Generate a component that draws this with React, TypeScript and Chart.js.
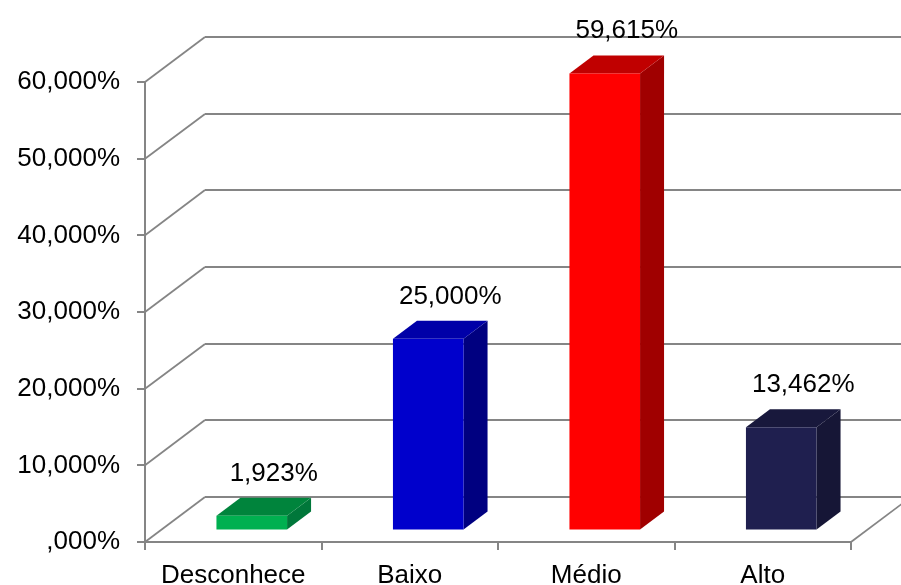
import React, { useEffect, useRef } from "react";
import { Chart, registerables } from "chart.js";

Chart.register(...registerables);

const categories = ["Desconhece", "Baixo", "Médio", "Alto"];
const values = [1.923, 25.0, 59.615, 13.462];
const yTicks = [0, 10, 20, 30, 40, 50, 60];
const yTickLabels = [",000%", "10,000%", "20,000%", "30,000%", "40,000%", "50,000%", "60,000%"];
const frontColors = ["#00b050", "#0000cc", "#ff0000", "#1f1f4f"];
const topColors = ["#00843c", "#0000a8", "#c00000", "#18183c"];
const sideColors = ["#00773a", "#000080", "#a00000", "#161636"];

const GRID = "#858585";
const FONT = '"Liberation Sans", Arial, sans-serif';
// wall depth (back-wall offset)
const WALL_DX = 60;
const WALL_DY = -45;
// bar front offset and bar depth
const BAR_DX = 18.5;
const BAR_DY = -11.5;
const DEPTH_DX = 24;
const DEPTH_DY = -18;

const fmt = (v: number) => v.toFixed(3).replace(".", ",") + "%";

const threeD = {
  id: "threeD",
  beforeDatasetsDraw(chart: any) {
    const { ctx, chartArea, scales } = chart;
    const y = scales.y;
    ctx.save();
    ctx.strokeStyle = GRID;
    // back wall horizontals
    ctx.lineWidth = 2;
    for (const v of yTicks) {
      const py = Math.round(y.getPixelForValue(v) + WALL_DY);
      ctx.beginPath();
      ctx.moveTo(chartArea.left + WALL_DX, py);
      ctx.lineTo(chartArea.right + WALL_DX, py);
      ctx.stroke();
    }
    // diagonals from left axis to back wall
    ctx.lineWidth = 1.8;
    for (const v of yTicks) {
      const py = y.getPixelForValue(v);
      ctx.beginPath();
      ctx.moveTo(chartArea.left, py);
      ctx.lineTo(chartArea.left + WALL_DX, Math.round(py + WALL_DY));
      ctx.stroke();
    }
    // floor right edge
    const py0 = y.getPixelForValue(0);
    ctx.beginPath();
    ctx.moveTo(chartArea.right, py0);
    ctx.lineTo(chartArea.right + WALL_DX, py0 + WALL_DY);
    ctx.stroke();
    ctx.restore();
  },
  afterDatasetsDraw(chart: any) {
    const { ctx } = chart;
    const meta = chart.getDatasetMeta(0);
    ctx.save();
    meta.data.forEach((bar: any, i: number) => {
      const half = bar.width / 2;
      const x0 = bar.x - half + BAR_DX;
      const x1 = bar.x + half + BAR_DX;
      const yt = bar.y + BAR_DY;
      const yb = bar.base + BAR_DY;
      // side
      ctx.fillStyle = sideColors[i];
      ctx.beginPath();
      ctx.moveTo(x1, yt);
      ctx.lineTo(x1 + DEPTH_DX, yt + DEPTH_DY);
      ctx.lineTo(x1 + DEPTH_DX, yb + DEPTH_DY);
      ctx.lineTo(x1, yb);
      ctx.closePath();
      ctx.fill();
      // top
      ctx.fillStyle = topColors[i];
      ctx.beginPath();
      ctx.moveTo(x0, yt);
      ctx.lineTo(x1, yt);
      ctx.lineTo(x1 + DEPTH_DX, yt + DEPTH_DY);
      ctx.lineTo(x0 + DEPTH_DX, yt + DEPTH_DY);
      ctx.closePath();
      ctx.fill();
      // front
      ctx.fillStyle = frontColors[i];
      ctx.fillRect(x0, yt, x1 - x0, yb - yt);
      // label
      ctx.fillStyle = "#000";
      ctx.font = `26px ${FONT}`;
      ctx.textAlign = "center";
      ctx.textBaseline = "alphabetic";
      ctx.fillText(fmt(values[i]), (x0 + x1) / 2 + 22, yt + DEPTH_DY - 17);
    });
    ctx.restore();
  },
};

export default function App() {
  const ref = useRef<HTMLCanvasElement>(null);
  useEffect(() => {
    if (!ref.current) return;
    const chart = new Chart(ref.current, {
      type: "bar",
      data: {
        labels: categories,
        datasets: [
          {
            data: values,
            backgroundColor: "rgba(0,0,0,0)",
            borderWidth: 0,
            barPercentage: 0.4,
            categoryPercentage: 1,
          },
        ],
      },
      options: {
        responsive: false,
        animation: false,
        events: [],
        layout: { padding: { top: 82, right: 50, left: 0, bottom: 0 } },
        plugins: { legend: { display: false }, tooltip: { enabled: false } },
        scales: {
          x: {
            offset: true,
            grid: {
              offset: true,
              drawOnChartArea: false,
              drawTicks: true,
              tickLength: 8,
              color: GRID,
              lineWidth: 2,
            },
            border: { display: true, color: GRID, width: 2 },
            ticks: { color: "#000", font: { family: FONT, size: 26 }, padding: 10 },
            afterFit: (s: any) => {
              s.height = 43;
            },
          },
          y: {
            min: 0,
            max: 60,
            afterBuildTicks: (s: any) => {
              s.ticks = yTicks.map((v) => ({ value: v }));
            },
            grid: {
              drawOnChartArea: false,
              drawTicks: true,
              tickLength: 8,
              color: GRID,
              lineWidth: 2,
            },
            border: { display: true, color: GRID, width: 2 },
            ticks: {
              color: "#000",
              font: { family: FONT, size: 26 },
              padding: 17,
              callback: (v: any) => {
                const idx = yTicks.indexOf(Number(v));
                return idx >= 0 ? yTickLabels[idx] : "";
              },
            },
            afterFit: (s: any) => {
              s.width = 145;
            },
          },
        },
      },
      plugins: [threeD],
    });
    return () => chart.destroy();
  }, []);
  return (
    <div style={{ position: "fixed", left: 0, top: 0, width: 901, height: 585, background: "#fff" }}>
      <canvas ref={ref} width={901} height={585} style={{ display: "block" }} />
    </div>
  );
}
